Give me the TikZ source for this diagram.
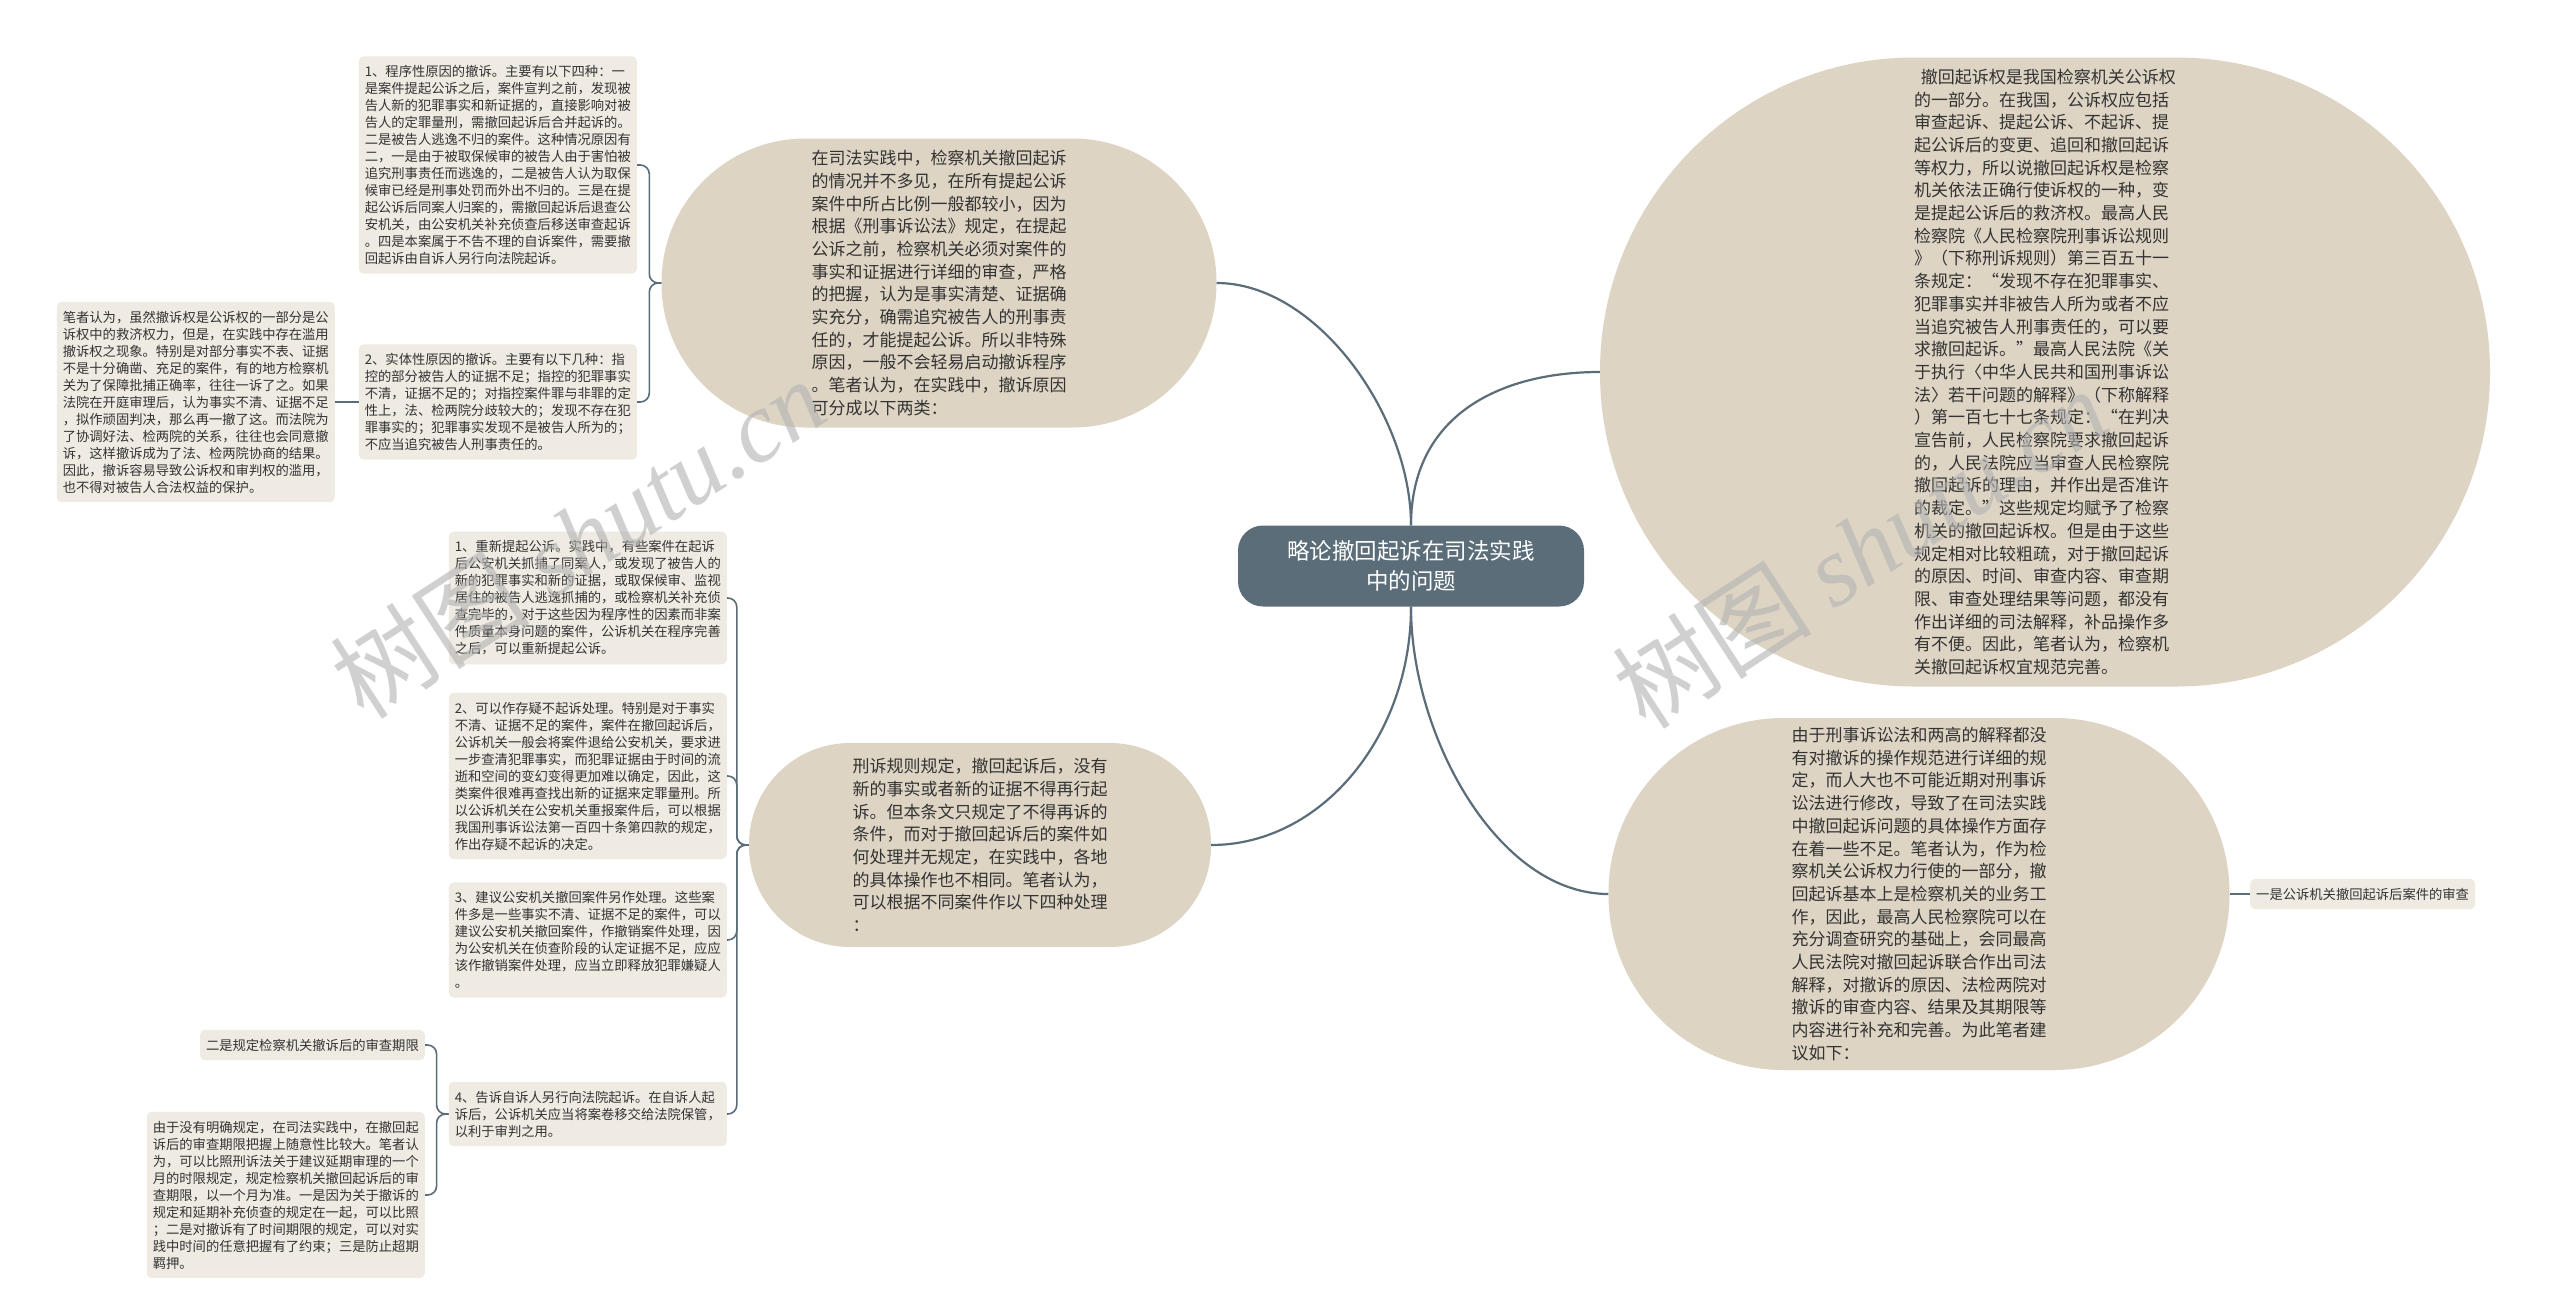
\documentclass[tikz,border=0pt]{standalone}
\usepackage{fontspec}
\setmainfont{Noto Sans CJK SC}
\newfontfamily\wzlatin{Liberation Serif}
\definecolor{schiefer}{HTML}{5A6D78}
\definecolor{sand}{HTML}{DDD4C4}
\definecolor{papier}{HTML}{EFEBE3}
\definecolor{tinte}{HTML}{333333}
\begin{document}
\begin{tikzpicture}[x=1pt,y=-1pt]
\tikzset{zentrum/.style={rectangle,rounded corners=25pt,fill=schiefer,text=white,align=center,font=\fontsize{22.5}{29.4}\selectfont,minimum width=346pt,minimum height=81pt}}
\tikzset{thema/.style n args={3}{rectangle,fill=sand,text=tinte,align=left,font=\fontsize{17}{22.7}\selectfont,inner sep=0pt,minimum width=#1,minimum height=#2,rounded corners=#3}}
\tikzset{blatt/.style={rectangle,rounded corners=5pt,fill=papier,text=tinte,align=left,font=\fontsize{13.3}{17}\selectfont,inner xsep=6pt,inner ysep=9pt}}
\tikzset{linie/.style={draw=schiefer,line width=2.2pt}}
\tikzset{ast/.style={draw=schiefer,line width=1.6pt,rounded corners=9pt}}
\tikzset{wasser/.style={text=gray!60,opacity=0.6,rotate=33,font=\fontsize{100}{100}\selectfont}}
\fill[white] (0,0) rectangle (2560,1310);
\useasboundingbox (0,0) rectangle (2560,1310);
% Mitte
\node [zentrum] (m) at (1411,566) {略论撤回起诉在司法实践\\中的问题};
% Themen
\node [thema={555pt}{289pt}{144pt}] (tA) at (939,283) {在司法实践中，检察机关撤回起诉\\的情况并不多见，在所有提起公诉\\案件中所占比例一般都较小，因为\\根据《刑事诉讼法》规定，在提起\\公诉之前，检察机关必须对案件的\\事实和证据进行详细的审查，严格\\的把握，认为是事实清楚、证据确\\实充分，确需追究被告人的刑事责\\任的，才能提起公诉。所以非特殊\\原因，一般不会轻易启动撤诉程序\\。笔者认为，在实践中，撤诉原因\\可分成以下两类：};
\node [thema={890pt}{629pt}{314pt}] (tB) at (2045,372) {\hspace*{0.4em}撤回起诉权是我国检察机关公诉权\\的一部分。在我国，公诉权应包括\\审查起诉、提起公诉、不起诉、提\\起公诉后的变更、追回和撤回起诉\\等权力，所以说撤回起诉权是检察\\机关依法正确行使诉权的一种，变\\是提起公诉后的救济权。最高人民\\检察院《人民检察院刑事诉讼规则\\》（下称刑诉规则）第三百五十一\\条规定：“发现不存在犯罪事实、\\犯罪事实并非被告人所为或者不应\\当追究被告人刑事责任的，可以要\\求撤回起诉。”最高人民法院《关\\于执行〈中华人民共和国刑事诉讼\\法〉若干问题的解释》（下称解释\\）第一百七十七条规定：“在判决\\宣告前，人民检察院要求撤回起诉\\的，人民法院应当审查人民检察院\\撤回起诉的理由，并作出是否准许\\的裁定。”这些规定均赋予了检察\\机关的撤回起诉权。但是由于这些\\规定相对比较粗疏，对于撤回起诉\\的原因、时间、审查内容、审查期\\限、审查处理结果等问题，都没有\\作出详细的司法解释，补品操作多\\有不便。因此，笔者认为，检察机\\关撤回起诉权宜规范完善。};
\node [thema={621pt}{352pt}{175pt}] (tC) at (1919,894) {由于刑事诉讼法和两高的解释都没\\有对撤诉的操作规范进行详细的规\\定，而人大也不可能近期对刑事诉\\讼法进行修改，导致了在司法实践\\中撤回起诉问题的具体操作方面存\\在着一些不足。笔者认为，作为检\\察机关公诉权力行使的一部分，撤\\回起诉基本上是检察机关的业务工\\作，因此，最高人民检察院可以在\\充分调查研究的基础上，会同最高\\人民法院对撤回起诉联合作出司法\\解释，对撤诉的原因、法检两院对\\撤诉的审查内容、结果及其期限等\\内容进行补充和完善。为此笔者建\\议如下：};
\node [thema={462pt}{204pt}{101pt}] (tD) at (980,845) {刑诉规则规定，撤回起诉后，没有\\新的事实或者新的证据不得再行起\\诉。但本条文只规定了不得再诉的\\条件，而对于撤回起诉后的案件如\\何处理并无规定，在实践中，各地\\的具体操作也不相同。笔者认为，\\可以根据不同案件作以下四种处理\\：};
% Blaetter
\node [blatt,anchor=east] (l1) at (637,165) {1、程序性原因的撤诉。主要有以下四种：一\\是案件提起公诉之后，案件宣判之前，发现被\\告人新的犯罪事实和新证据的，直接影响对被\\告人的定罪量刑，需撤回起诉后合并起诉的。\\二是被告人逃逸不归的案件。这种情况原因有\\二，一是由于被取保候审的被告人由于害怕被\\追究刑事责任而逃逸的，二是被告人认为取保\\候审已经是刑事处罚而外出不归的。三是在提\\起公诉后同案人归案的，需撤回起诉后退查公\\安机关，由公安机关补充侦查后移送审查起诉\\。四是本案属于不告不理的自诉案件，需要撤\\回起诉由自诉人另行向法院起诉。};
\node [blatt,anchor=east] (l2) at (637,402) {2、实体性原因的撤诉。主要有以下几种：指\\控的部分被告人的证据不足；指控的犯罪事实\\不清，证据不足的；对指控案件罪与非罪的定\\性上，法、检两院分歧较大的；发现不存在犯\\罪事实的；犯罪事实发现不是被告人所为的；\\不应当追究被告人刑事责任的。};
\node [blatt,anchor=east] (l0) at (335,402) {笔者认为，虽然撤诉权是公诉权的一部分是公\\诉权中的救济权力，但是，在实践中存在滥用\\撤诉权之现象。特别是对部分事实不表、证据\\不是十分确凿、充足的案件，有的地方检察机\\关为了保障批捕正确率，往往一诉了之。如果\\法院在开庭审理后，认为事实不清、证据不足\\，拟作顽固判决，那么再一撤了这。而法院为\\了协调好法、检两院的关系，往往也会同意撤\\诉，这样撤诉成为了法、检两院协商的结果。\\因此，撤诉容易导致公诉权和审判权的滥用，\\也不得对被告人合法权益的保护。};
\node [blatt,anchor=east] (k1) at (727,598) {1、重新提起公诉。实践中，有些案件在起诉\\后公安机关抓捕了同案人，或发现了被告人的\\新的犯罪事实和新的证据，或取保候审、监视\\居住的被告人逃逸抓捕的，或检察机关补充侦\\查完毕的，对于这些因为程序性的因素而非案\\件质量本身问题的案件，公诉机关在程序完善\\之后，可以重新提起公诉。};
\node [blatt,anchor=east] (k2) at (727,776) {2、可以作存疑不起诉处理。特别是对于事实\\不清、证据不足的案件，案件在撤回起诉后，\\公诉机关一般会将案件退给公安机关，要求进\\一步查清犯罪事实，而犯罪证据由于时间的流\\逝和空间的变幻变得更加难以确定，因此，这\\类案件很难再查找出新的证据来定罪量刑。所\\以公诉机关在公安机关重报案件后，可以根据\\我国刑事诉讼法第一百四十条第四款的规定，\\作出存疑不起诉的决定。};
\node [blatt,anchor=east] (k3) at (727,940) {3、建议公安机关撤回案件另作处理。这些案\\件多是一些事实不清、证据不足的案件，可以\\建议公安机关撤回案件，作撤销案件处理，因\\为公安机关在侦查阶段的认定证据不足，应应\\该作撤销案件处理，应当立即释放犯罪嫌疑人\\。};
\node [blatt,anchor=east] (k4) at (727,1114) {4、告诉自诉人另行向法院起诉。在自诉人起\\诉后，公诉机关应当将案卷移交给法院保管，\\以利于审判之用。};
\node [blatt,anchor=east] (n1) at (425,1045) {二是规定检察机关撤诉后的审查期限};
\node [blatt,anchor=east] (n2) at (425,1195) {由于没有明确规定，在司法实践中，在撤回起\\诉后的审查期限把握上随意性比较大。笔者认\\为，可以比照刑诉法关于建议延期审理的一个\\月的时限规定，规定检察机关撤回起诉后的审\\查期限，以一个月为准。一是因为关于撤诉的\\规定和延期补充侦查的规定在一起，可以比照\\；二是对撤诉有了时间期限的规定，可以对实\\践中时间的任意把握有了约束；三是防止超期\\羁押。};
\node [blatt,anchor=west] (r1) at (2250,894) {一是公诉机关撤回起诉后案件的审查};
% Verbindungen
\draw[linie] (m.north) .. controls +(0,-110) and +(100,0) .. (tA.east);
\draw[linie] (m.north) .. controls +(0,-110) and +(-100,0) .. (tB.west);
\draw[linie] (m.south) .. controls +(0,130) and +(-110,0) .. (tC.west);
\draw[linie] (m.south) .. controls +(0,130) and +(110,0) .. (tD.east);
\draw[ast] (tA.west) -- ++(-12,0) |- (l1.east);
\draw[ast] (tA.west) -- ++(-12,0) |- (l2.east);
\draw[ast] (l2.west) -- (l0.east);
\draw[ast] (tD.west) -- ++(-12,0) |- (k1.east);
\draw[ast] (tD.west) -- ++(-12,0) |- (k2.east);
\draw[ast] (tD.west) -- ++(-12,0) |- (k3.east);
\draw[ast] (tD.west) -- ++(-12,0) |- (k4.east);
\draw[ast] (k4.west) -- ++(-12,0) |- (n1.east);
\draw[ast] (k4.west) -- ++(-12,0) |- (n2.east);
\draw[ast] (tC.east) -- (r1.west);
% Wasserzeichen
\node [wasser] (w1) at (578,538) {树图 {\wzlatin\itshape shutu.cn}};
\node [wasser] (w2) at (1860,548) {树图 {\wzlatin\itshape shutu.cn}};
\end{tikzpicture}
\end{document}
